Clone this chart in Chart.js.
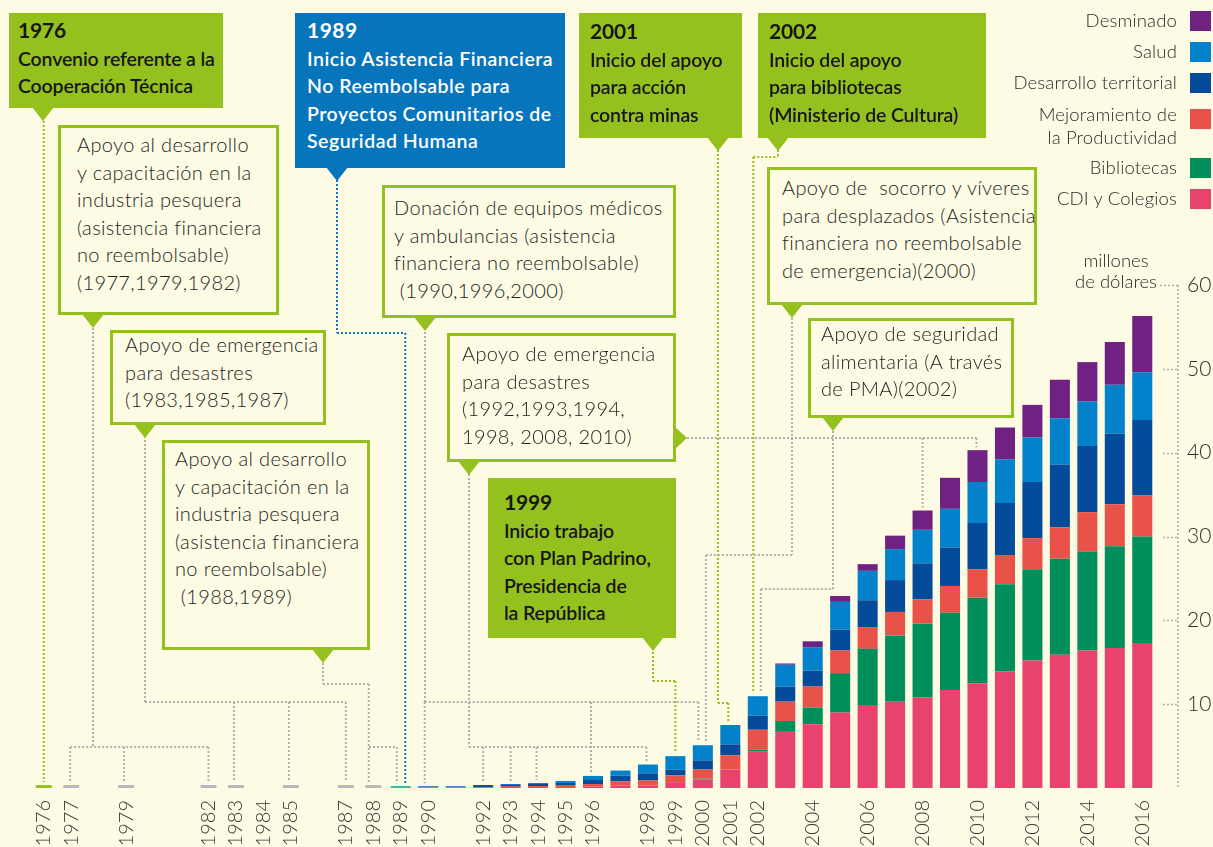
<!doctype html>
<html>
<head>
<meta charset="utf-8">
<title>Cooperación 1976-2016</title>
<script src="https://cdn.jsdelivr.net/npm/chart.js@4.4.1/dist/chart.umd.min.js"></script>
<style>
  html, body { margin: 0; padding: 0; background: #fdfbe4; }
  #wrap { position: relative; width: 1213px; height: 847px; overflow: hidden; font-family: 'Lato', sans-serif; color: #2e2e2e; }
  #chart { position: absolute; left: 0; top: 0; }
  .box { position: absolute; box-sizing: border-box; }
  .plain { border: 3px solid #95c11f; background: #fdfbe4; }
  .green { background: #95c11f; }
  .blue { background: #0775bb; }
  .tri { position: absolute; }
  .txt { position: absolute; white-space: pre; font-size: 20px; line-height: 27.5px; }
  .txt.plain-t { font-weight: 300; color: #1e1e1e; letter-spacing: 0.35px; }
  .txt.bold-t { font-weight: 600; color: #161616; font-size: 19.5px; letter-spacing: -0.15px; }
  .txt.bold-t b { font-weight: 700; font-size: 21px; }
  .txt.white-t { color: #fff; letter-spacing: 0.5px; }
  .leg { position: absolute; right: 36px; text-align: right; font-size: 18.5px; line-height: 23px; font-weight: 300; color: #2a2a2a; white-space: pre; letter-spacing: 0.15px; }
  .sq { position: absolute; left: 1190px; width: 21px; height: 20px; }
  #unidad { position: absolute; left: 1058px; top: 250px; width: 116px; text-align: center; font-size: 18.5px; line-height: 21px; font-weight: 300; color: #2a2a2a; }
</style>
</head>
<body>
<div id="wrap">
  <canvas id="chart" width="1213" height="847"></canvas>
  <div id="unidad">millones<br>de dólares</div>
</div>
<script>
// años del eje
var years = ['1976','1977','1978','1979','1980','1981','1982','1983','1984','1985','1986','1987','1988',
  '1989','1990','1991','1992','1993','1994','1995','1996','1997','1998','1999','2000','2001','2002',
  '2003','2004','2005','2006','2007','2008','2009','2010','2011','2012','2013','2014','2015','2016'];
var shownYears = ['1976','1977','1979','1982','1983','1984','1985','1987','1988','1989','1990','1992','1993',
  '1994','1995','1996','1998','1999','2000','2001','2002','2004','2006','2008','2010','2012','2014','2016'];

// millones de dólares por año
var cdiColegios = [0,0,0,0,0,0,0,0,0,0,0,0,0,
  0,0,0,0,0,0,0,0.2,0.28,0.3,0.7,1.0,2.2,4.4,6.8,7.6,9.0,9.9,10.3,10.8,11.7,12.5,13.9,15.2,15.9,16.4,16.7,17.3];
var bibliotecas = [0,0,0,0,0,0,0,0,0,0,0,0,0,
  0,0,0,0,0,0,0,0,0,0,0,0.1,0,0.15,1.2,2.0,4.7,6.7,7.9,8.8,9.2,10.2,10.4,10.9,11.45,11.8,12.15,12.7];
var mejoramiento = [0,0,0,0,0,0,0,0,0,0,0,0,0,
  0.1,0.1,0.1,0.1,0.24,0.24,0.36,0.28,0.5,0.6,0.8,1.1,1.7,2.4,2.3,2.5,2.7,2.6,2.8,2.9,3.2,3.4,3.5,3.7,3.75,4.7,5.0,4.9];
var desarrollo = [0,0,0,0,0,0,0,0,0,0,0,0,0,
  0,0.1,0.1,0.25,0.12,0.24,0.24,0.48,0.7,0.85,0.7,1.1,1.3,1.7,1.8,1.9,2.5,3.2,3.8,4.3,4.6,5.5,6.2,6.7,7.5,7.9,8.45,9.0];
var salud = [0,0,0,0,0,0,0,0,0,0,0,0,0,
  0.1,0,0,0,0.12,0.12,0.24,0.48,0.6,1.05,1.6,1.8,2.2,2.3,2.6,2.8,3.3,3.5,3.7,4.0,4.6,4.9,5.2,5.3,5.5,5.3,5.8,5.7];
var desminado = [0,0,0,0,0,0,0,0,0,0,0,0,0,
  0,0,0,0,0,0,0,0,0,0,0,0,0.1,0,0.15,0.7,0.7,0.8,1.6,2.3,3.7,3.8,3.8,3.9,4.6,4.7,5.1,6.7];
// marcas de hitos sin monto
var hitos = [0.35,0.35,0,0.35,0,0,0.35,0.35,0,0.35,0,0.35,0.35,
  0,0,0,0,0,0,0,0,0,0,0,0,0,0,0,0,0,0,0,0,0,0,0,0,0,0,0,0];

var seriesNames = ['CDI y Colegios', 'Bibliotecas', 'Mejoramiento de\nla Productividad', 'Desarrollo territorial', 'Salud', 'Desminado'];
var seriesColors = ['#e8426f', '#008e5b', '#e95249', '#044c9b', '#0382cb', '#6f2281'];
var series = [cdiColegios, bibliotecas, mejoramiento, desarrollo, salud, desminado];

var GREEN = '#95c11f', BLUE = '#1479c0', GRAY = '#b0b0b0';

// recuadros de texto
var notas = [
  {k:'green', x:9, y:13, w:214, h:95, tx:18, ty:16, p:43, t:['<b>1976</b>','Convenio referente a la','Cooperación Técnica']},
  {k:'plain', x:58, y:125, w:221, h:190, tx:77, ty:131, p:93, t:['Apoyo al desarrollo','y capacitación en la','industria pesquera','(asistencia financiera','no reembolsable)','(1977,1979,1982)']},
  {k:'plain', x:110, y:330, w:216, h:95, tx:125, ty:331, p:145, t:['Apoyo de emergencia','para desastres','(1983,1985,1987)']},
  {k:'plain', x:162, y:440, w:208, h:210, tx:175, ty:445, p:323, t:['Apoyo al desarrollo','y capacitación en la','industria pesquera','(asistencia financiera','no reembolsable)',' (1988,1989)']},
  {k:'blue', x:295, y:13, w:270, h:155, tx:307, ty:16, p:337, t:['<b>1989</b>','Inicio Asistencia Financiera','No Reembolsable para','Proyectos Comunitarios de','Seguridad Humana']},
  {k:'plain', x:382, y:185, w:294, h:133, tx:394, ty:194, p:425, t:['Donación de equipos médicos','y ambulancias (asistencia','financiera no reembolsable)',' (1990,1996,2000)']},
  {k:'plain', x:447, y:333, w:229, h:129, tx:462, ty:340, p:469, pr:438, t:['Apoyo de emergencia','para desastres','(1992,1993,1994,','1998, 2008, 2010)']},
  {k:'green', x:488, y:478, w:188, h:160, tx:504, ty:488, p:653, t:['<b>1999</b>','Inicio trabajo','con Plan Padrino,','Presidencia de','la República']},
  {k:'green', x:579, y:13, w:163, h:125, tx:590, ty:17, p:718, t:['<b>2001</b>','Inicio del apoyo','para acción','contra minas']},
  {k:'green', x:758, y:13, w:228, h:125, tx:769, ty:17, p:778, t:['<b>2002</b>','Inicio del apoyo','para bibliotecas','(Ministerio de Cultura)']},
  {k:'plain', x:767, y:167, w:270, h:138, tx:782, ty:174, p:792, t:['Apoyo de  socorro y víveres','para desplazados (Asistencia','financiera no reembolsable','de emergencia)(2000)']},
  {k:'plain', x:808, y:318, w:206, h:100, tx:821, ty:320, p:833, t:['Apoyo de seguridad','alimentaria (A través','de PMA)(2002)']}
];

// líneas guía: punta, altura del tramo horizontal, años de destino [año, desplazamiento]
var guias = [
  {c:GREEN, tip:[43,121], bus:121, to:[['1976',0]]},
  {c:GRAY, tip:[93,328], bus:747, to:[['1977',-1],['1979',-2],['1982',0]]},
  {c:GRAY, tip:[145,436], bus:702, to:[['1983',-2],['1985',-2],['1987',0]]},
  {c:GRAY, tip:[323,663], bus:684, to:[['1988',-4.5]]},
  {c:GRAY, tip:[369,747], bus:747, to:[['1989',-4]]},
  {c:BLUE, tip:[337,180], bus:333, to:[['1989',4.5]]},
  {c:GRAY, tip:[425,332], bus:702, to:[['1990',-3.5],['1996',-2],['2000',-4.5]]},
  {c:GRAY, tip:[469,474], bus:747, to:[['1992',0],['1993',0],['1994',-1.5],['1998',-1.5]]},
  {c:GRAY, tip:[687,438], bus:438, to:[['2008',0],['2010',-1]]},
  {c:GREEN, tip:[653,652], bus:681, to:[['1999',0]]},
  {c:GREEN, tip:[718,150], bus:703, to:[['2001',-2]]},
  {c:GREEN, tip:[778,150], bus:157, to:[['2002',-4.5]]},
  {c:GRAY, tip:[792,318], bus:555, to:[['2000',3]]},
  {c:GRAY, tip:[833,431], bus:589, to:[['2002',3]]}
];

var wrap = document.getElementById('wrap');
function addEl(cls, css, html) {
  var d = document.createElement('div');
  d.className = cls;
  for (var k in css) d.style[k] = css[k];
  if (html !== undefined) d.innerHTML = html;
  wrap.appendChild(d);
  return d;
}

notas.forEach(function(n) {
  addEl('box ' + n.k, {left: n.x + 'px', top: n.y + 'px', width: n.w + 'px', height: n.h + 'px'});
  var col = n.k === 'blue' ? '#0775bb' : GREEN;
  addEl('tri', {left: (n.p - 11) + 'px', top: (n.y + n.h - 1) + 'px', width: '22px', height: '14px',
    background: col, clipPath: 'polygon(0 0, 100% 0, 50% 100%)'});
  if (n.pr) {
    addEl('tri', {left: (n.x + n.w - 1) + 'px', top: (n.pr - 11) + 'px', width: '12px', height: '22px',
      background: col, clipPath: 'polygon(0 0, 100% 50%, 0 100%)'});
  }
  var tc = n.k === 'plain' ? 'plain-t' : (n.k === 'blue' ? 'bold-t white-t' : 'bold-t');
  addEl('txt ' + tc, {left: n.tx + 'px', top: n.ty + 'px'}, n.t.join('<br>'));
});

// leyenda (de arriba hacia abajo)
var legendTops = [21, 52, 83, 115, 168, 199];
for (var i = 0; i < seriesNames.length; i++) {
  var s = seriesNames.length - 1 - i;
  addEl('leg', {top: (legendTops[i] - 12) + 'px'}, seriesNames[s].replace('\n', '<br>'));
  var two = seriesNames[s].indexOf('\n') >= 0;
  addEl('sq', {top: (legendTops[i] - 10 + (two ? 4 : 0)) + 'px', background: seriesColors[s]});
}

var guidePlugin = {
  id: 'guides',
  beforeDatasetsDraw: function(chart) {
    var ctx = chart.ctx, xs = chart.scales.x, ys = chart.scales.y;
    function topOf(year) {
      var i = years.indexOf(year), tot = 0;
      chart.data.datasets.forEach(function(d) { tot += d.data[i]; });
      return ys.getPixelForValue(tot) - 3;
    }
    ctx.save();
    ctx.lineWidth = 2;
    ctx.setLineDash([2, 2]);
    guias.forEach(function(g) {
      ctx.strokeStyle = g.c;
      ctx.beginPath();
      ctx.moveTo(g.tip[0], g.tip[1]);
      ctx.lineTo(g.tip[0], g.bus);
      var xsList = [g.tip[0]];
      g.to.forEach(function(t) {
        var px = xs.getPixelForValue(years.indexOf(t[0])) + t[1];
        xsList.push(px);
        ctx.moveTo(px, g.bus);
        ctx.lineTo(px, topOf(t[0]));
      });
      ctx.moveTo(Math.min.apply(null, xsList), g.bus);
      ctx.lineTo(Math.max.apply(null, xsList), g.bus);
      ctx.stroke();
    });
    // eje vertical punteado
    var ax = ys.left + 22;
    ctx.strokeStyle = GRAY;
    ctx.lineWidth = 1.6;
    ctx.beginPath();
    ctx.moveTo(ax, ys.getPixelForValue(60));
    ctx.lineTo(ax, ys.getPixelForValue(0));
    ys.ticks.forEach(function(t) {
      if (t.value === 0) return;
      var p = Math.round(ys.getPixelForValue(t.value)) + 0.5;
      ctx.moveTo(ys.left + (t.value === 60 ? 4 : 7), p);
      ctx.lineTo(ax, p);
    });
    ctx.stroke();
    ctx.restore();
  }
};

var datasets = series.map(function(d, i) {
  return { label: seriesNames[i], data: d, backgroundColor: seriesColors[i],
    barPercentage: 0.73, categoryPercentage: 1 };
});
datasets.push({ label: 'Hitos', data: hitos, barPercentage: 0.58, categoryPercentage: 1,
  backgroundColor: function(c) { return c.dataIndex === 0 ? GREEN : '#b8b8b8'; } });

new Chart(document.getElementById('chart').getContext('2d'), {
  type: 'bar',
  data: { labels: years, datasets: datasets },
  plugins: [guidePlugin],
  options: {
    responsive: false,
    animation: false,
    devicePixelRatio: 1,
    layout: { padding: { left: 30, top: 285, right: 0, bottom: 0 } },
    plugins: { legend: { display: false }, tooltip: { enabled: false } },
    scales: {
      x: {
        stacked: true,
        grid: { display: false, drawTicks: false },
        border: { display: false },
        ticks: {
          autoSkip: false, minRotation: 90, maxRotation: 90, padding: 12,
          color: '#333', font: { family: 'Lato', size: 20, weight: 300 },
          callback: function(v) { var y = years[v]; return shownYears.indexOf(y) >= 0 ? y : ''; }
        },
        afterFit: function(s) { s.height = 59; }
      },
      y: {
        stacked: true,
        position: 'right',
        min: 0, max: 60,
        grid: { display: false, drawTicks: false },
        border: { display: false },
        ticks: {
          stepSize: 10, padding: 31,
          color: '#2e2e2e', font: { family: 'Lato', size: 21, weight: 300 },
          callback: function(v) { return v === 0 ? '' : v; }
        },
        afterFit: function(s) { s.width = 57; }
      }
    }
  }
});
</script>
</body>
</html>
